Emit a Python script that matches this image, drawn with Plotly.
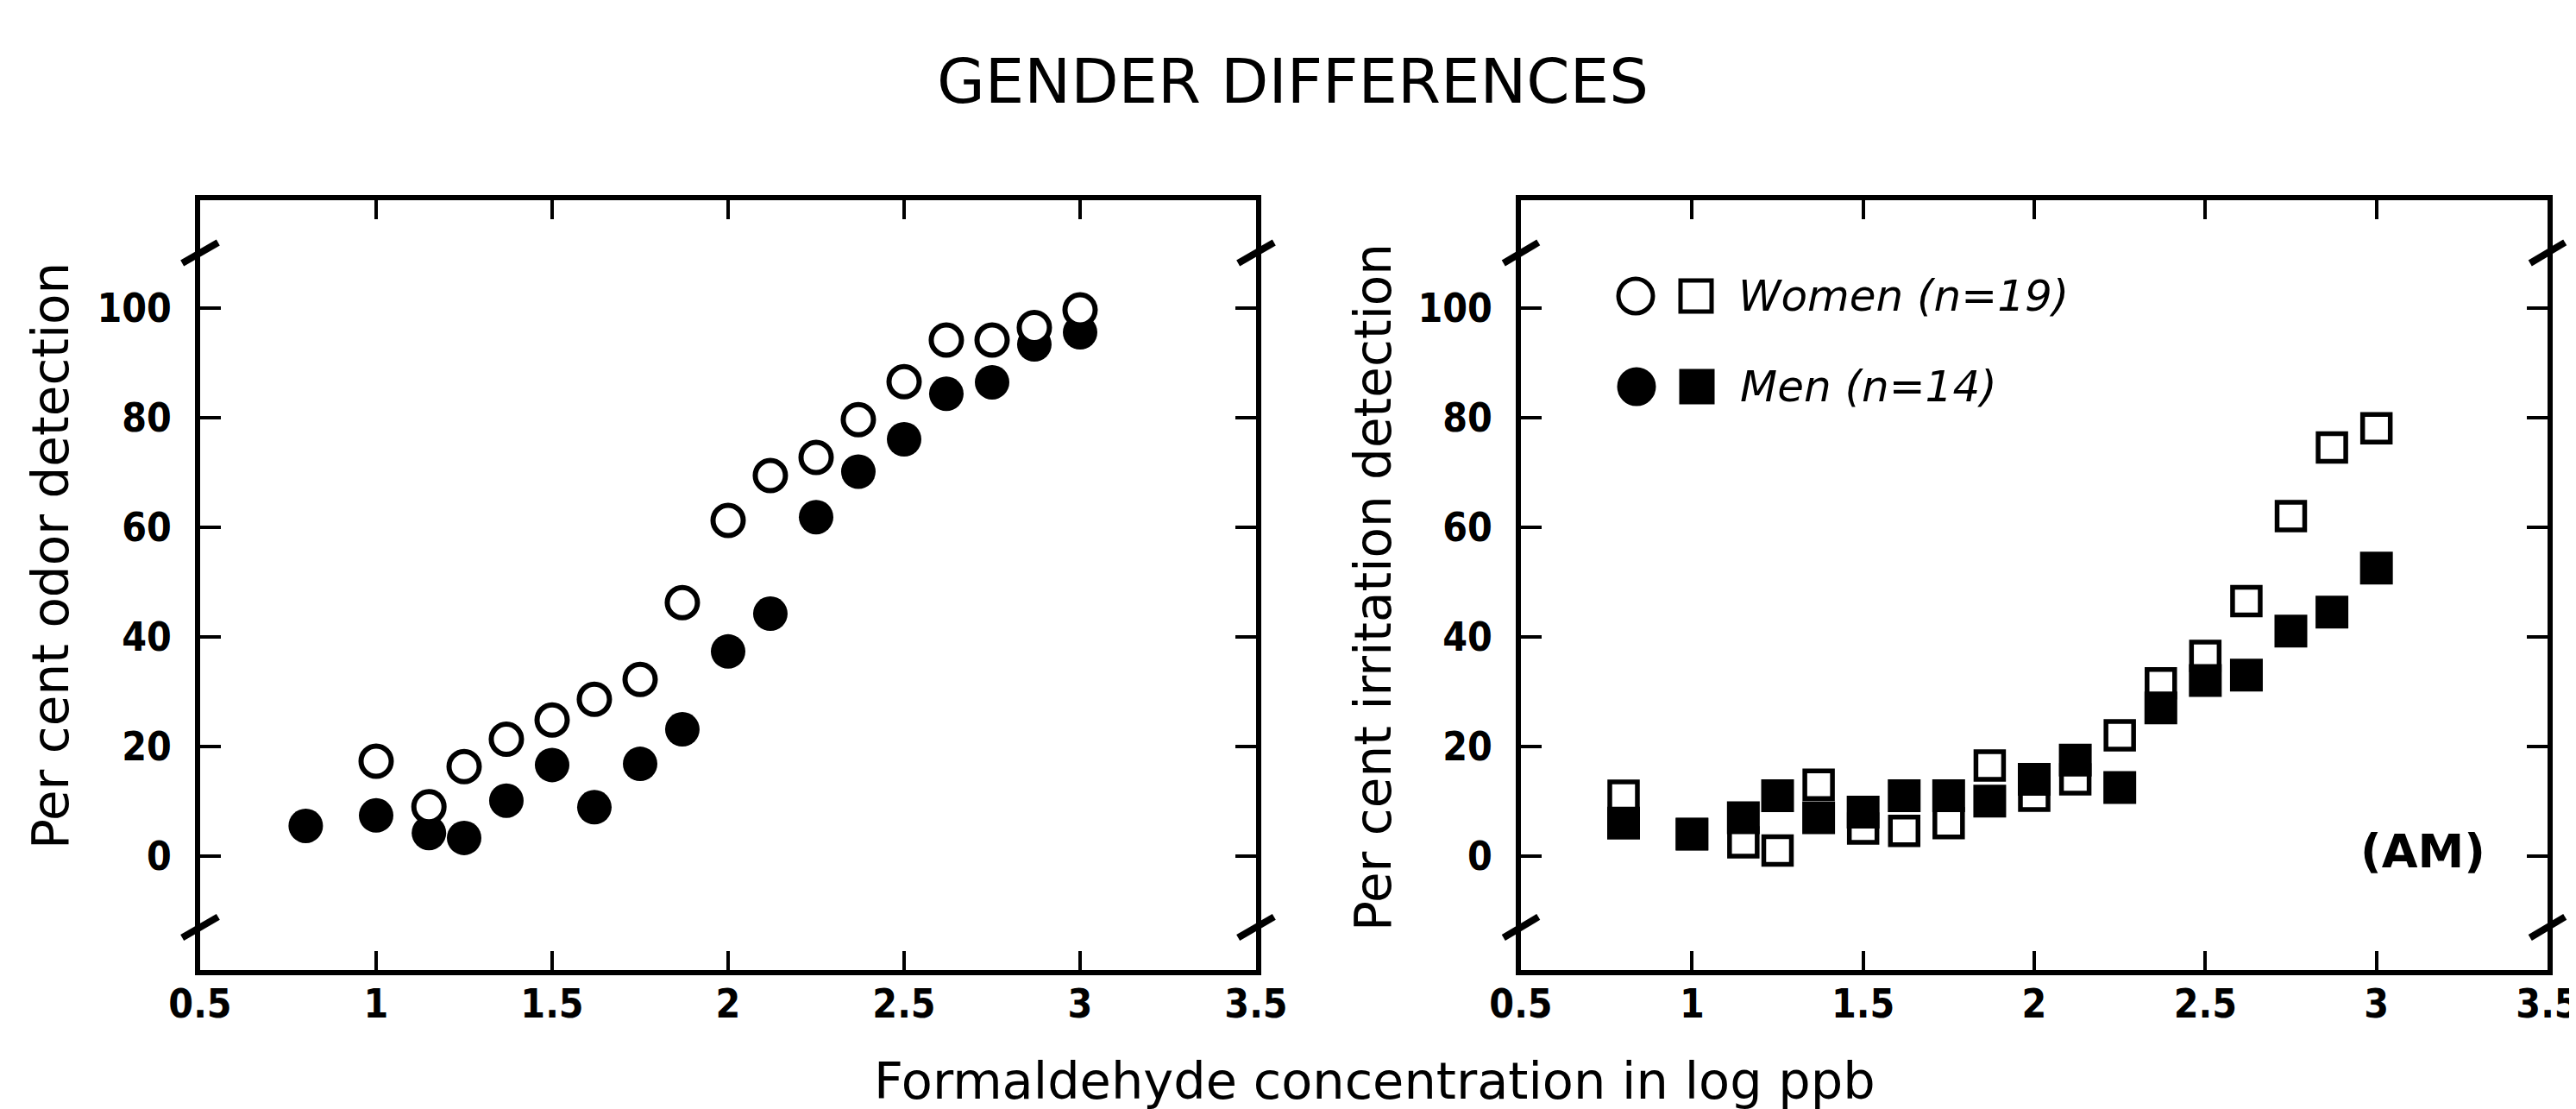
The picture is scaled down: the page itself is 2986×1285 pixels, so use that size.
import plotly.graph_objects as go

# ---------------- data ----------------
conc = [0.8, 1.0, 1.15, 1.25, 1.37, 1.5, 1.62, 1.75, 1.87, 2.0,
        2.12, 2.25, 2.37, 2.5, 2.62, 2.75, 2.87, 3.0]

odor_women = [None, 17.3, 9.0, 16.3, 21.3, 24.8, 28.6, 32.2, 46.2, 61.2,
              69.4, 72.7, 79.6, 86.5, 94.1, 94.1, 96.4, 99.6]
odor_men = [5.5, 7.4, 4.2, 3.3, 10.1, 16.6, 8.9, 16.8, 23.1, 37.3,
            44.2, 61.8, 70.1, 76.0, 84.3, 86.4, 93.3, 95.5]

irr_women = [11.0, 4.0, 2.5, 1.0, 13.0, 5.0, 4.6, 6.0, 16.5, 11.0,
             14.0, 22.0, 31.5, 36.5, 46.5, 62.0, 74.5, 78.0]
irr_men = [6.0, 4.0, 7.0, 11.0, 7.0, 8.0, 11.0, 11.0, 10.0, 14.0,
           17.5, 12.5, 27.0, 32.0, 33.0, 41.0, 44.5, 52.5]

x_ticks = [0.5, 1, 1.5, 2, 2.5, 3, 3.5]
x_tick_labels = ["0.5", "1", "1.5", "2", "2.5", "3", "3.5"]
y_ticks = [0, 20, 40, 60, 80, 100]
y_tick_labels = ["0", "20", "40", "60", "80", "100"]

title_text = "GENDER DIFFERENCES"
x_title = "Formaldehyde concentration in log ppb"
y_title_left = "Per cent odor detection"
y_title_right = "Per cent irritation detection"
legend_women = "Women (n=19)"
legend_men = "Men (n=14)"
panel_note = "(AM)"

# ---------------- layout helpers ----------------
W, H = 2986, 1285


def px(x):
    return x / W


def py(y):
    return 1 - y / H


TICK_FONT = dict(family="DejaVu Sans Condensed, Liberation Sans Narrow, DejaVu Sans, sans-serif",
                 size=46, color="black", weight="bold")
TEXT_FAMILY = "DejaVu Sans, Liberation Sans, sans-serif"

ydom = [py(1116), py(224)]
yrange = [-20.8, 119.6]

fig = go.Figure()

# left panel: odor
fig.add_trace(go.Scatter(x=conc, y=odor_men, mode="markers", xaxis="x", yaxis="y",
                         marker=dict(symbol="circle", size=40, color="black",
                                     line=dict(width=0))))
fig.add_trace(go.Scatter(x=conc, y=odor_women, mode="markers", xaxis="x", yaxis="y",
                         marker=dict(symbol="circle", size=35, color="white",
                                     line=dict(color="black", width=6))))
# right panel: irritation
fig.add_trace(go.Scatter(x=conc, y=irr_women, mode="markers", xaxis="x2", yaxis="y2",
                         marker=dict(symbol="square", size=32, color="white",
                                     line=dict(color="black", width=5.5))))
fig.add_trace(go.Scatter(x=conc, y=irr_men, mode="markers", xaxis="x2", yaxis="y2",
                         marker=dict(symbol="square", size=38, color="black",
                                     line=dict(width=0))))

common_x = dict(range=[0.5, 3.5], tickmode="array", tickvals=x_ticks, ticktext=x_tick_labels,
                ticks="inside", ticklen=22, tickwidth=4, tickcolor="black",
                showline=True, linewidth=6, linecolor="black", mirror="ticks",
                showgrid=False, zeroline=False, tickfont=TICK_FONT, ticklabelstandoff=-6,
                automargin=False)
common_y = dict(range=yrange, tickmode="array", tickvals=y_ticks, ticktext=y_tick_labels,
                ticks="inside", ticklen=24, tickwidth=4, tickcolor="black",
                showline=True, linewidth=6, linecolor="black", mirror="ticks",
                showgrid=False, zeroline=False, tickfont=TICK_FONT, ticklabelstandoff=18,
                automargin=False)

fig.update_layout(
    template="none",
    width=W, height=H,
    margin=dict(l=0, r=0, t=0, b=0, pad=0),
    paper_bgcolor="white", plot_bgcolor="white",
    showlegend=False,
    xaxis=dict(domain=[px(224), px(1448)], anchor="y", **common_x),
    yaxis=dict(domain=ydom, anchor="x", **common_y),
    xaxis2=dict(domain=[px(1755), px(2945)], anchor="y2", **common_x),
    yaxis2=dict(domain=ydom, anchor="x2", **common_y),
)

annotations = [
    dict(text=title_text, x=px(1490), y=py(86), xref="paper", yref="paper",
         showarrow=False, xanchor="center", yanchor="middle",
         font=dict(family=TEXT_FAMILY, size=72, color="black")),
    dict(text=x_title, x=px(1585), y=py(1244), xref="paper", yref="paper",
         showarrow=False, xanchor="center", yanchor="middle",
         font=dict(family=TEXT_FAMILY, size=59, color="black")),
    dict(text=y_title_left, x=px(51), y=py(636), xref="paper", yref="paper",
         showarrow=False, xanchor="center", yanchor="middle", textangle=-90,
         font=dict(family=TEXT_FAMILY, size=58, color="black")),
    dict(text=y_title_right, x=px(1584), y=py(673), xref="paper", yref="paper",
         showarrow=False, xanchor="center", yanchor="middle", textangle=-90,
         font=dict(family=TEXT_FAMILY, size=58, color="black")),
    dict(text="<i>" + legend_women + "</i>", x=px(2005), y=py(335), xref="paper", yref="paper",
         showarrow=False, xanchor="left", yanchor="middle",
         font=dict(family=TEXT_FAMILY, size=50, color="black")),
    dict(text="<i>" + legend_men + "</i>", x=px(2007), y=py(440), xref="paper", yref="paper",
         showarrow=False, xanchor="left", yanchor="middle",
         font=dict(family=TEXT_FAMILY, size=50, color="black")),
    dict(text=panel_note, x=px(2800), y=py(978), xref="paper", yref="paper",
         showarrow=False, xanchor="center", yanchor="middle",
         font=dict(family=TEXT_FAMILY, size=54, color="black", weight="bold")),
]
fig.update_layout(annotations=annotations)

shapes = []
# legend symbols
for (cx, cy, kind, filled) in [(1888, 335, "circle", False), (1958, 335, "rect", False),
                               (1889, 440, "circle", True), (1959, 440, "rect", True)]:
    r = 20 if kind == "circle" else 18
    shapes.append(dict(type=kind, xref="paper", yref="paper",
                       x0=px(cx - r), x1=px(cx + r), y0=py(cy + r), y1=py(cy - r),
                       fillcolor="black" if filled else "white",
                       line=dict(color="black", width=5)))
# axis break marks
for xr, yr in [("x domain", "y"), ("x2 domain", "y2")]:
    for xs in (0, 1):
        for yv in (110, -13):
            shapes.append(dict(type="line", xref=xr, yref=yr,
                               x0=xs - 0.017, x1=xs + 0.017, y0=yv - 1.9, y1=yv + 1.9,
                               line=dict(color="black", width=8)))
fig.update_layout(shapes=shapes)

fig.write_html("out.html")
